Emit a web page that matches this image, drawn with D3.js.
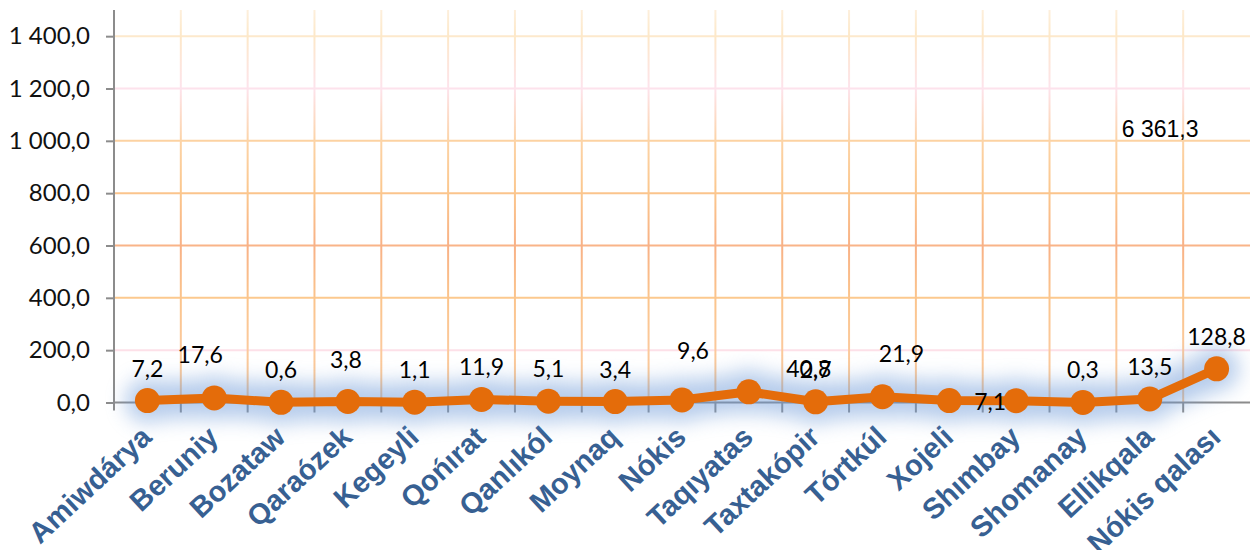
<!DOCTYPE html>
<html>
<head>
<meta charset="utf-8">
<script src="https://cdnjs.cloudflare.com/ajax/libs/d3/7.8.5/d3.min.js"></script>
<style>
  body { margin: 0; background: #fff; }
</style>
</head>
<body>
<div id="chart"></div>
<script>
// districts and values
const categories = ['Amiwdárya', 'Beruniy', 'Bozataw', 'Qaraózek', 'Kegeyli', 'Qońırat', 'Qanlıkól',
  'Moynaq', 'Nókis', 'Taqıyatas', 'Taxtakópir', 'Tórtkúl', 'Xojeli', 'Shımbay', 'Shomanay',
  'Ellikqala', 'Nókis qalası']
const values = [7.2, 17.6, 0.6, 3.8, 1.1, 11.9, 5.1, 3.4, 9.6, 40.8, 2.7, 21.9, 7.5, 7.1, 0.3, 13.5, 128.8]
const hiddenLabels = ['Xojeli']
const yTicks = [0, 200, 400, 600, 800, 1000, 1200, 1400]
const totalLabel = '6 361,3'

const W = 1250, H = 550
const margin = {top: 10, left: 114, right: 0, bottom: 148}
const plotBottom = 402.5

const svg = d3.select('#chart').append('svg')
  .attr('width', W).attr('height', H)

const x = d3.scaleBand().domain(categories).range([margin.left, W]).padding(0)
const y = d3.scaleLinear().domain([0, 1500]).range([plotBottom, margin.top])

const locale = d3.formatLocale({decimal: ',', thousands: ' ', grouping: [3], currency: ['', '']})
const fmt = locale.format(',.1f')

const defs = svg.append('defs')
const vg = defs.append('linearGradient').attr('id', 'vgrad')
  .attr('gradientUnits', 'userSpaceOnUse')
  .attr('x1', 0).attr('y1', margin.top).attr('x2', 0).attr('y2', plotBottom)
const stops = [[0, '#fdefdc'], [0.066, '#fde8c8'], [0.2, '#fde3ec'], [0.334, '#fcd3a6'],
  [0.467, '#fbc68c'], [0.6, '#f8b186'], [0.734, '#fbc48c'], [0.867, '#fbc99c'], [1, '#fbc690']]
stops.forEach(s => vg.append('stop').attr('offset', s[0]).attr('stop-color', s[1]))

const glow = defs.append('filter').attr('id', 'glow')
  .attr('x', '-10%').attr('y', '-300%').attr('width', '120%').attr('height', '700%')
glow.append('feGaussianBlur').attr('stdDeviation', 10)

// horizontal gridlines
const hColor = d3.scaleLinear()
  .domain([200, 400, 600, 800, 1000, 1200, 1400])
  .range(['#fde0e8', '#fcc98e', '#f9b488', '#fbc48c', '#fcd2a2', '#fde2ec', '#fde9cc'])

svg.append('g').selectAll('line').data(yTicks.filter(d => d > 0)).enter().append('line')
  .attr('x1', margin.left).attr('x2', W)
  .attr('y1', d => y(d)).attr('y2', d => y(d))
  .attr('stroke', d => hColor(d))
  .attr('stroke-width', 2)

// vertical gridlines at band edges
svg.append('g').selectAll('line').data(categories.slice(1)).enter().append('line')
  .attr('x1', d => x(d)).attr('x2', d => x(d))
  .attr('y1', margin.top).attr('y2', plotBottom)
  .attr('stroke', 'url(#vgrad)')
  .attr('stroke-width', 2)

// y axis
const yAxis = svg.append('g')
  .attr('transform', 'translate(' + margin.left + ',0)')
  .call(d3.axisLeft(y).tickValues(yTicks).tickSize(8).tickPadding(16).tickFormat(fmt))
yAxis.attr('font-size', null).attr('font-family', null)
yAxis.select('.domain').attr('stroke', '#8c8c8c').attr('stroke-width', 2)
  .attr('d', 'M0,' + margin.top + 'V' + (plotBottom + 8))
yAxis.selectAll('.tick line').attr('stroke', '#8c8c8c').attr('stroke-width', 2)
yAxis.selectAll('.tick text')
  .style('font-family', 'Lato, sans-serif')
  .style('font-size', '24px')
  .attr('fill', '#111')

// x axis line and ticks
const xAxis = svg.append('g')
xAxis.append('line')
  .attr('x1', margin.left).attr('x2', W)
  .attr('y1', plotBottom).attr('y2', plotBottom)
  .attr('stroke', '#8c8c8c').attr('stroke-width', 2)
xAxis.selectAll('line.tick').data(categories.slice(1)).enter().append('line')
  .attr('class', 'tick')
  .attr('x1', d => x(d)).attr('x2', d => x(d))
  .attr('y1', plotBottom).attr('y2', plotBottom + 10)
  .attr('stroke', '#8c8c8c').attr('stroke-width', 2)

xAxis.selectAll('text').data(categories).enter().append('text')
  .text(d => d)
  .attr('text-anchor', 'end')
  .style('font-family', '"Liberation Sans", Arial, sans-serif')
  .style('font-weight', 'bold')
  .style('font-size', '29px')
  .attr('fill', '#376092')
  .attr('transform', d => 'translate(' + (x(d) + x.bandwidth() / 2 - 8) + ',' + (plotBottom + 22) + ') rotate(-43)')
  .attr('dy', '0.7em')

// line + glow
const cx = d => x(d.cat) + x.bandwidth() / 2
const pts = categories.map((c, i) => ({cat: c, v: values[i]}))
const line = d3.line().x(cx).y(d => y(d.v))

const glowG = svg.append('g').attr('filter', 'url(#glow)').attr('opacity', 0.5)
glowG.append('path').datum(pts)
  .attr('d', line)
  .attr('fill', 'none')
  .attr('stroke', '#6d9ad8')
  .attr('stroke-width', 38)
  .attr('stroke-linejoin', 'round')
glowG.selectAll('circle').data(pts).enter().append('circle')
  .attr('cx', cx).attr('cy', d => y(d.v)).attr('r', 22)
  .attr('fill', '#6d9ad8')

svg.append('path').datum(pts)
  .attr('d', line)
  .attr('fill', 'none')
  .attr('stroke', '#e46c0a')
  .attr('stroke-width', 9)
  .attr('stroke-linejoin', 'round')

svg.selectAll('circle.pt').data(pts).enter().append('circle')
  .attr('class', 'pt')
  .attr('cx', cx).attr('cy', d => y(d.v)).attr('r', 12.5)
  .attr('fill', '#e46c0a')

// data labels, some moved by hand as in the original
const nudge = {
  'Beruniy': [-14, -11],
  'Qaraózek': [-2, -10],
  'Nókis': [11, -17],
  'Taqıyatas': [60, 9],
  'Tórtkúl': [19, -11]
}
svg.append('g').selectAll('text')
  .data(pts.filter(d => hiddenLabels.indexOf(d.cat) < 0)).enter().append('text')
  .text(d => fmt(d.v))
  .style('font-family', 'Lato, sans-serif')
  .style('font-size', '23px')
  .attr('fill', '#000')
  .attr('dominant-baseline', 'central')
  .attr('text-anchor', d => d.cat === 'Shımbay' ? 'end' : 'middle')
  .attr('x', d => {
    if (d.cat === 'Shımbay') return cx(d) - 10
    return cx(d) + (nudge[d.cat] ? nudge[d.cat][0] : 0)
  })
  .attr('y', d => {
    if (d.cat === 'Shımbay') return y(d.v)
    return y(d.v) - 33 + (nudge[d.cat] ? nudge[d.cat][1] : 0)
  })

// the total, floating above the last points
svg.append('text')
  .text(totalLabel)
  .style('font-family', '"Liberation Sans", Arial, sans-serif')
  .style('font-size', '23px')
  .attr('fill', '#000')
  .attr('text-anchor', 'middle')
  .attr('dominant-baseline', 'central')
  .attr('x', x('Nókis qalası') - 23)
  .attr('y', y(1046))
</script>
</body>
</html>
